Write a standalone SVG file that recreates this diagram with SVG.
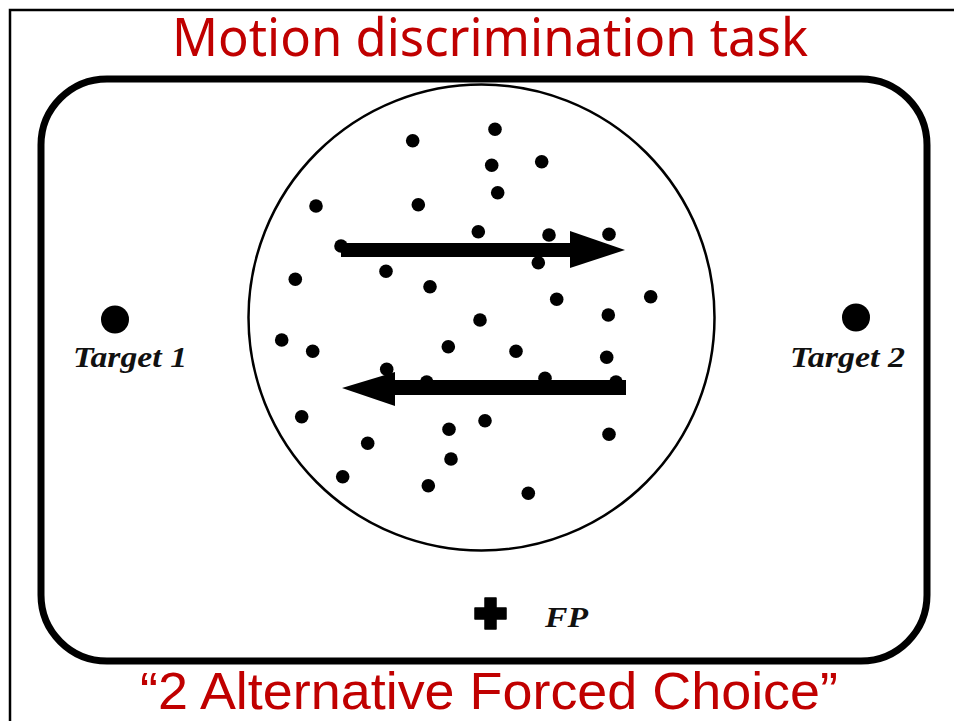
<svg xmlns="http://www.w3.org/2000/svg" width="954" height="721" viewBox="0 0 954 721">
<defs>
<style>
.title{font-family:"Noto Sans","Liberation Sans",sans-serif;fill:#C00000;font-size:52px;text-anchor:middle}
.sub{font-family:"Liberation Sans","Noto Sans",sans-serif;fill:#C00000;font-size:52px;text-anchor:middle}
.lbl{font-family:"Liberation Serif","DejaVu Serif",serif;font-style:italic;font-weight:bold;fill:#111;font-size:30px}
.dot{fill:#000}
.ink{fill:#000;stroke:none}
</style>
</defs>
<rect width="954" height="721" fill="#fff"/>
<path d="M10 721 V10 H954" fill="none" stroke="#000" stroke-width="2.5"/>
<text class="title" x="490" y="56" textLength="636" lengthAdjust="spacingAndGlyphs">Motion discrimination task</text>
<rect id="screen" x="41" y="79" width="886" height="582" rx="66" ry="66" fill="none" stroke="#000" stroke-width="7"/>
<g id="stimulus">
<circle cx="481.5" cy="317.5" r="233" fill="none" stroke="#000" stroke-width="2.5"/>
<g class="dot">
<circle cx="412.7" cy="140.7" r="6.8"/><circle cx="495" cy="129.3" r="6.8"/><circle cx="491.7" cy="165.3" r="6.8"/>
<circle cx="541.7" cy="161.7" r="6.8"/><circle cx="497.7" cy="192.7" r="6.8"/><circle cx="316" cy="206" r="6.8"/>
<circle cx="418.3" cy="204.7" r="6.8"/><circle cx="478.3" cy="231.7" r="6.8"/><circle cx="549" cy="235" r="6.8"/>
<circle cx="609" cy="234.3" r="6.8"/><circle cx="538.3" cy="262.7" r="6.8"/><circle cx="341" cy="246" r="6.8"/>
<circle cx="386" cy="271.3" r="6.8"/><circle cx="295.3" cy="279.3" r="6.8"/><circle cx="430" cy="286.7" r="6.8"/>
<circle cx="556.7" cy="299.3" r="6.8"/><circle cx="650.7" cy="296.7" r="6.8"/><circle cx="608.3" cy="315" r="6.8"/>
<circle cx="480" cy="320" r="6.8"/><circle cx="281.7" cy="340" r="6.8"/><circle cx="312.7" cy="351.3" r="6.8"/>
<circle cx="448.3" cy="346.7" r="6.8"/><circle cx="516" cy="351.3" r="6.8"/><circle cx="606.7" cy="357.3" r="6.8"/>
<circle cx="386.7" cy="369.3" r="6.8"/><circle cx="426.7" cy="382" r="6.8"/><circle cx="545" cy="378.3" r="6.8"/>
<circle cx="616" cy="382" r="6.8"/><circle cx="301.7" cy="416.7" r="6.8"/><circle cx="449" cy="429.3" r="6.8"/>
<circle cx="485" cy="420.7" r="6.8"/><circle cx="609" cy="434.3" r="6.8"/><circle cx="367.7" cy="443.3" r="6.8"/>
<circle cx="451" cy="459" r="6.8"/><circle cx="342.7" cy="476.7" r="6.8"/><circle cx="428.3" cy="485.7" r="6.8"/>
<circle cx="528.3" cy="493.3" r="6.8"/>
</g>
</g>
<g id="arrows">
<g id="arrow-right" class="ink">
<rect x="341" y="243" width="232" height="14"/>
<polygon points="570,231 625,250 570,268"/>
</g>
<g id="arrow-left" class="ink">
<rect x="392" y="380" width="234" height="15"/>
<polygon points="342,388 395,372 395,406"/>
</g>
</g>
<g id="target1">
<circle cx="115" cy="319.5" r="14" fill="#000"/>
<text class="lbl" x="73" y="367" textLength="114" lengthAdjust="spacingAndGlyphs">Target 1</text>
</g>
<g id="target2">
<circle cx="856" cy="317.5" r="14" fill="#000"/>
<text class="lbl" x="790" y="367" textLength="115" lengthAdjust="spacingAndGlyphs">Target 2</text>
</g>
<g id="fp">
<path d="M485 598 H496 V608 H506 V619 H496 V629 H485 V619 H475 V608 H485 Z" fill="#000" stroke="#000" stroke-width="1.5" stroke-linejoin="round"/>
<text class="lbl" x="545" y="627" textLength="43" lengthAdjust="spacingAndGlyphs">FP</text>
</g>
<text class="sub" x="489" y="709" textLength="698" lengthAdjust="spacingAndGlyphs">“2 Alternative Forced Choice”</text>
</svg>
